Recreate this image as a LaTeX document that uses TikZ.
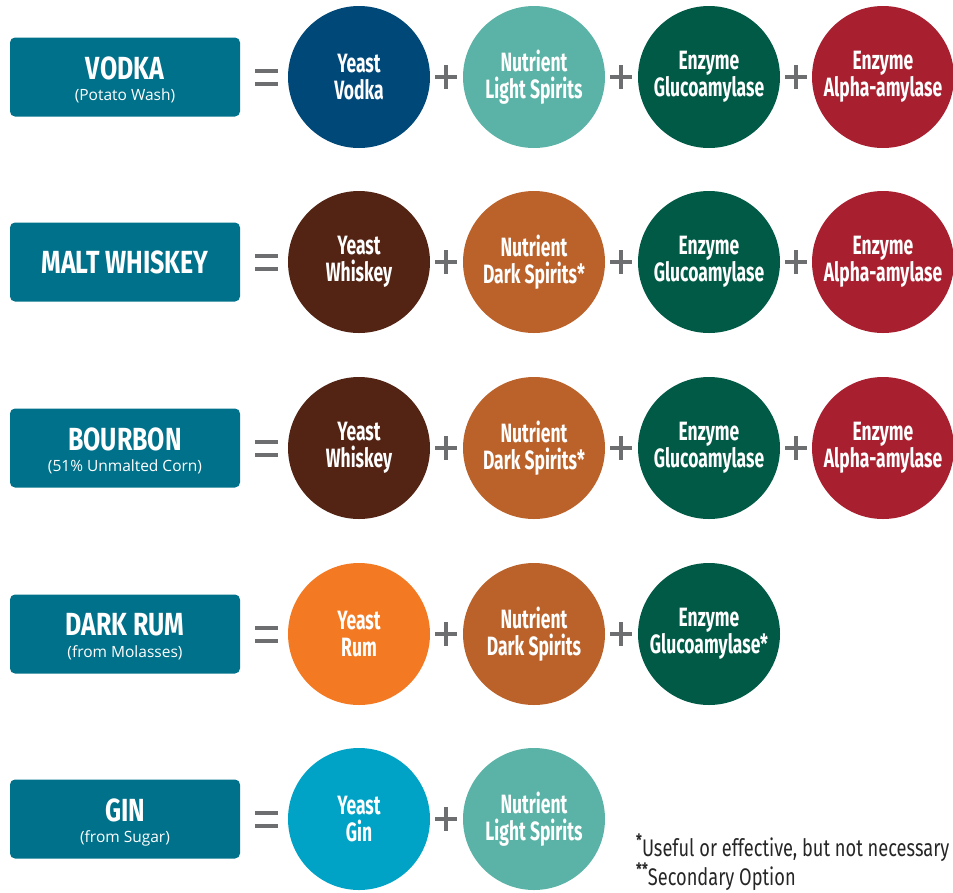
\documentclass[tikz,border=0pt]{standalone}
\usepackage{fontspec}
\setmainfont{Open Sans}
\newfontfamily\cond[FakeStretch=0.66]{Fira Sans}
\newfontfamily\condt[FakeStretch=0.78]{Fira Sans}
\newfontfamily\condf[FakeStretch=0.76]{Fira Sans}
\definecolor{boxc}{RGB}{0,113,138}
\definecolor{cvodka}{RGB}{0,72,120}
\definecolor{clight}{RGB}{90,179,166}
\definecolor{cgluco}{RGB}{0,90,70}
\definecolor{calpha}{RGB}{168,32,47}
\definecolor{cwhisk}{RGB}{83,36,20}
\definecolor{cdark}{RGB}{187,98,43}
\definecolor{crum}{RGB}{243,122,35}
\definecolor{cgin}{RGB}{0,163,198}
\definecolor{opc}{RGB}{109,110,112}
\begin{document}
\begin{tikzpicture}[x=1pt,y=-1pt,
  lbl/.style={fill=boxc, rounded corners=5pt, minimum width=230pt, minimum height=79pt, inner sep=0pt},
  ttl/.style={text=white, inner sep=0pt, font=\condt\bfseries\fontsize{32}{34}\selectfont},
  sub/.style={text=white, inner sep=0pt, font=\fontsize{15.5}{17}\selectfont},
  ing/.style={circle, fill=#1, minimum size=142pt, inner sep=0pt, text=white, align=center, font=\cond\bfseries\fontsize{26.5}{27}\selectfont},
  op/.style={draw=opc, line width=4.5pt},
  note/.style={anchor=base west, inner sep=0pt, text=black!85, font=\condf\fontsize{24}{26}\selectfont}
]
\useasboundingbox (0,0) rectangle (953,892);
\newcommand{\eqsign}[1]{\draw[op,line width=4pt] (255,#1-6.5) -- (278,#1-6.5) (255,#1+6.5) -- (278,#1+6.5);}
\newcommand{\plussign}[2]{\draw[op] (#1-11,#2) -- (#1+11,#2) (#1,#2-12) -- (#1,#2+12);}

% Row 1
\node[lbl] (b1) at (125,77) {};
\node[ttl] (t1) at ([yshift=9pt]b1.center) {VODKA};
\node[sub] (s1) at ([yshift=-19pt]b1.center) {(Potato Wash)};
\eqsign{77}
\node[ing=cvodka] (c11) at (359,77) {Yeast\\Vodka};
\plussign{446}{77}
\node[ing=clight] (c12) at (534,77) {Nutrient\\Light Spirits};
\plussign{621}{77}
\node[ing=cgluco] (c13) at (709,77) {Enzyme\\Glucoamylase};
\plussign{796}{77}
\node[ing=calpha] (c14) at (883,77) {Enzyme\\Alpha-amylase};

% Row 2
\node[lbl] (b2) at (125,262) {};
\node[ttl] (t2) at (b2.center) {MALT WHISKEY};
\eqsign{262}
\node[ing=cwhisk] (c21) at (359,262) {Yeast\\Whiskey};
\plussign{446}{262}
\node[ing=cdark] (c22) at (534,262) {Nutrient\\Dark Spirits*};
\plussign{621}{262}
\node[ing=cgluco] (c23) at (709,262) {Enzyme\\Glucoamylase};
\plussign{796}{262}
\node[ing=calpha] (c24) at (883,262) {Enzyme\\Alpha-amylase};

% Row 3
\node[lbl] (b3) at (125,448) {};
\node[ttl] (t3) at ([yshift=9pt]b3.center) {BOURBON};
\node[sub] (s3) at ([yshift=-19pt]b3.center) {(51\% Unmalted Corn)};
\eqsign{448}
\node[ing=cwhisk] (c31) at (359,448) {Yeast\\Whiskey};
\plussign{446}{448}
\node[ing=cdark] (c32) at (534,448) {Nutrient\\Dark Spirits*};
\plussign{621}{448}
\node[ing=cgluco] (c33) at (709,448) {Enzyme\\Glucoamylase};
\plussign{796}{448}
\node[ing=calpha] (c34) at (883,448) {Enzyme\\Alpha-amylase};

% Row 4
\node[lbl] (b4) at (125,634) {};
\node[ttl] (t4) at ([yshift=9pt]b4.center) {DARK RUM};
\node[sub] (s4) at ([yshift=-19pt]b4.center) {(from Molasses)};
\eqsign{634}
\node[ing=crum] (c41) at (359,634) {Yeast\\Rum};
\plussign{446}{634}
\node[ing=cdark] (c42) at (534,634) {Nutrient\\Dark Spirits};
\plussign{621}{634}
\node[ing=cgluco] (c43) at (709,634) {Enzyme\\Glucoamylase*};

% Row 5
\node[lbl] (b5) at (125,819) {};
\node[ttl] (t5) at ([yshift=9pt]b5.center) {GIN};
\node[sub] (s5) at ([yshift=-19pt]b5.center) {(from Sugar)};
\eqsign{819}
\node[ing=cgin] (c51) at (359,819) {Yeast\\Gin};
\plussign{446}{819}
\node[ing=clight] (c52) at (534,819) {Nutrient\\Light Spirits};

% Notes
\node[note] (n1) at (636,856) {\raisebox{0.4em}{\bfseries\fontsize{17}{17}\selectfont *}Useful or effective, but not necessary};
\node[note] (n2) at (636,885) {\raisebox{0.4em}{\bfseries\fontsize{17}{17}\selectfont **}Secondary Option};
\end{tikzpicture}
\end{document}
